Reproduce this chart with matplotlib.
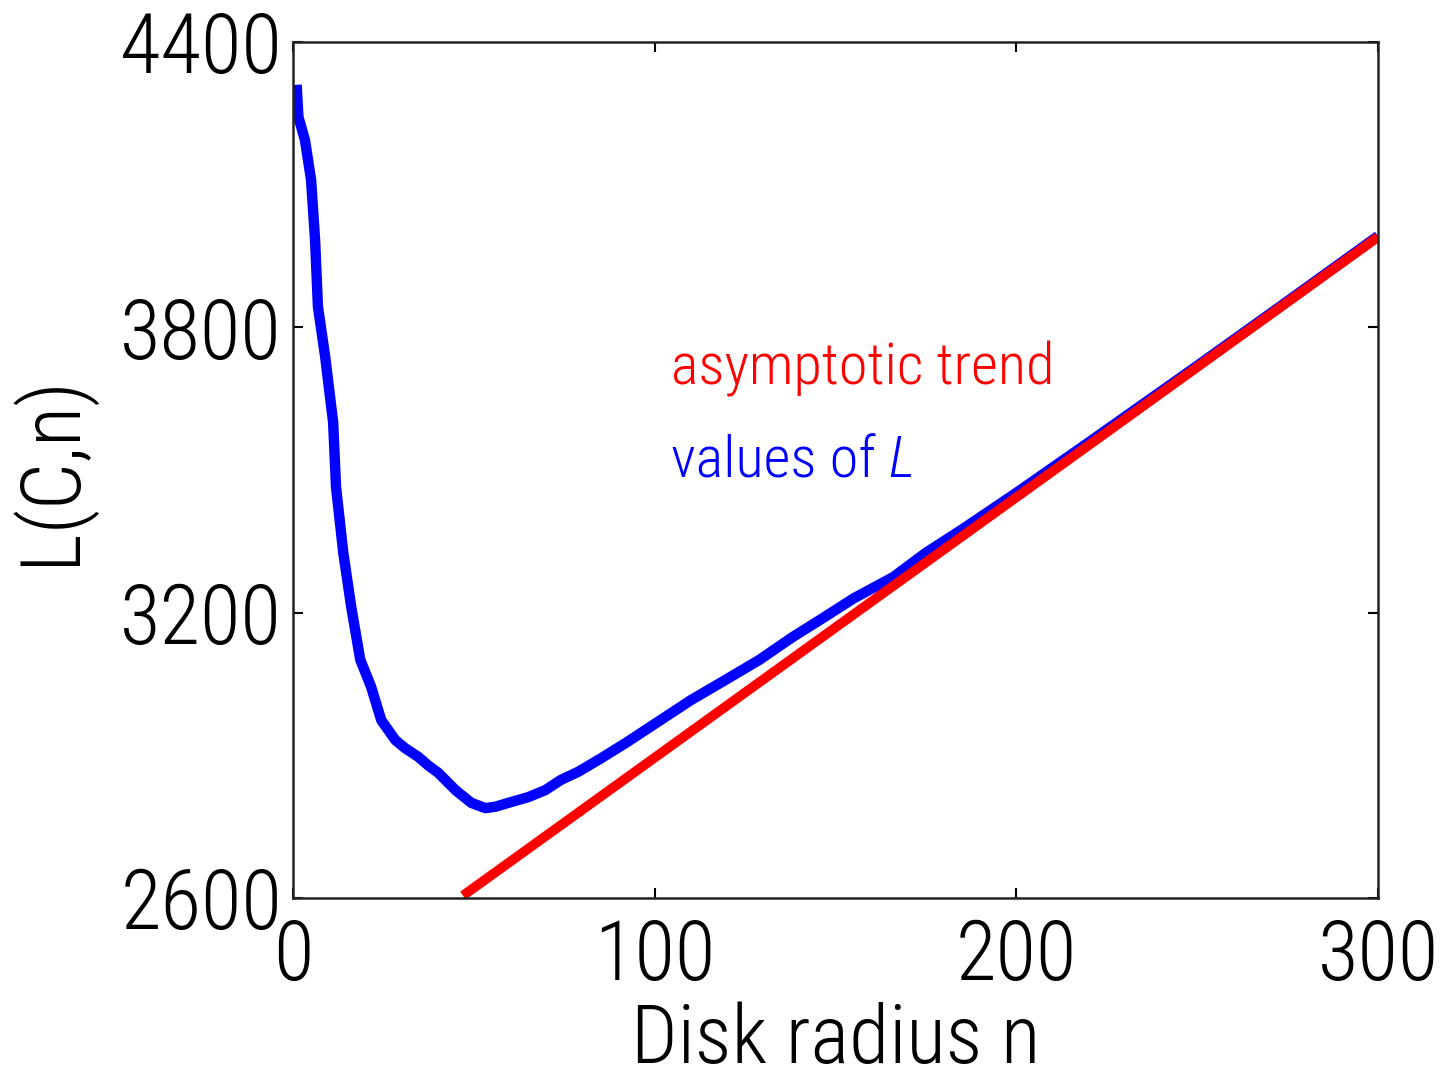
import numpy as np
import matplotlib
matplotlib.use("Agg")
import matplotlib.pyplot as plt

# values of L
radius = [1, 1.5, 3.3, 5, 6.1, 6.9, 8.9, 11.1, 11.9, 13.9, 16.1, 18.6, 21.6,
          24.4, 28.3, 31.0, 34.6, 37.5, 40.2, 44.9, 49.3, 53.2, 56.0, 60.4,
          65.0, 69.8, 74.0, 79.0, 85.0, 92.0, 100.0, 110.0, 119.0, 129.0,
          138.0, 147.0, 155.0, 166.0, 175.0, 185.0, 200.0, 220.0, 250.0,
          275.0, 300.0]
L_values = [4310, 4242, 4194, 4110, 3984, 3843, 3738, 3600, 3464, 3326, 3212,
            3101, 3044, 2974, 2932, 2915, 2897, 2878, 2863, 2827, 2800, 2789,
            2792, 2802, 2812, 2827, 2848, 2866, 2893, 2926, 2966, 3016, 3056,
            3101, 3148, 3191, 3230, 3275, 3326, 3375, 3452, 3558, 3719,
            3855, 3992]

# asymptotic trend
trend_n = [47, 300]
trend_L = [2605, 3990]

xticks = [0, 100, 200, 300]
yticks = [2600, 3200, 3800, 4400]

plt.rcParams['font.family'] = ['Roboto Condensed', 'Liberation Sans', 'DejaVu Sans']
plt.rcParams['font.weight'] = 'light'
plt.rcParams['axes.labelweight'] = 'light'

fig = plt.figure(figsize=(14.43, 10.8), dpi=100)
ax = fig.add_axes([293 / 1443, 1 - 898 / 1080, (1378 - 293) / 1443, (898 - 42) / 1080])

ax.plot(radius, L_values, color='#0000ff', linewidth=7.5, solid_capstyle='butt')
ax.plot(trend_n, trend_L, color='#ff0000', linewidth=7, solid_capstyle='butt')

ax.set_xlim(0, 300)
ax.set_ylim(2600, 4400)
ax.set_xticks(xticks)
ax.set_yticks(yticks)
ax.tick_params(direction='in', length=7, width=1.5, top=True, right=True,
               colors='black', labelsize=60)
ax.tick_params(axis='y', pad=8)
ax.tick_params(axis='x', pad=14)
for s in ax.spines.values():
    s.set_linewidth(1.8)
    s.set_color('#222222')

ax.set_xlabel("Disk radius n", fontsize=59)
ax.set_ylabel("L(C,n)", fontsize=60)
ax.xaxis.set_label_coords(0.5, -0.121)
ax.yaxis.set_label_coords(-0.184, 0.5)

ax.text(104.4, 3679, "asymptotic trend", color='#ff0000', fontsize=42,
        va='baseline', ha='left')
t = ax.text(104.4, 3485, "values of ", color='#0000ff', fontsize=42,
            va='baseline', ha='left')
fig.canvas.draw()
bb = t.get_window_extent()
x_end = ax.transData.inverted().transform((bb.x1, bb.y0))[0]
ax.text(x_end, 3485, "L", color='#0000ff', fontsize=42, fontstyle='italic',
        va='baseline', ha='left')

fig.savefig("out.png", dpi=100)
